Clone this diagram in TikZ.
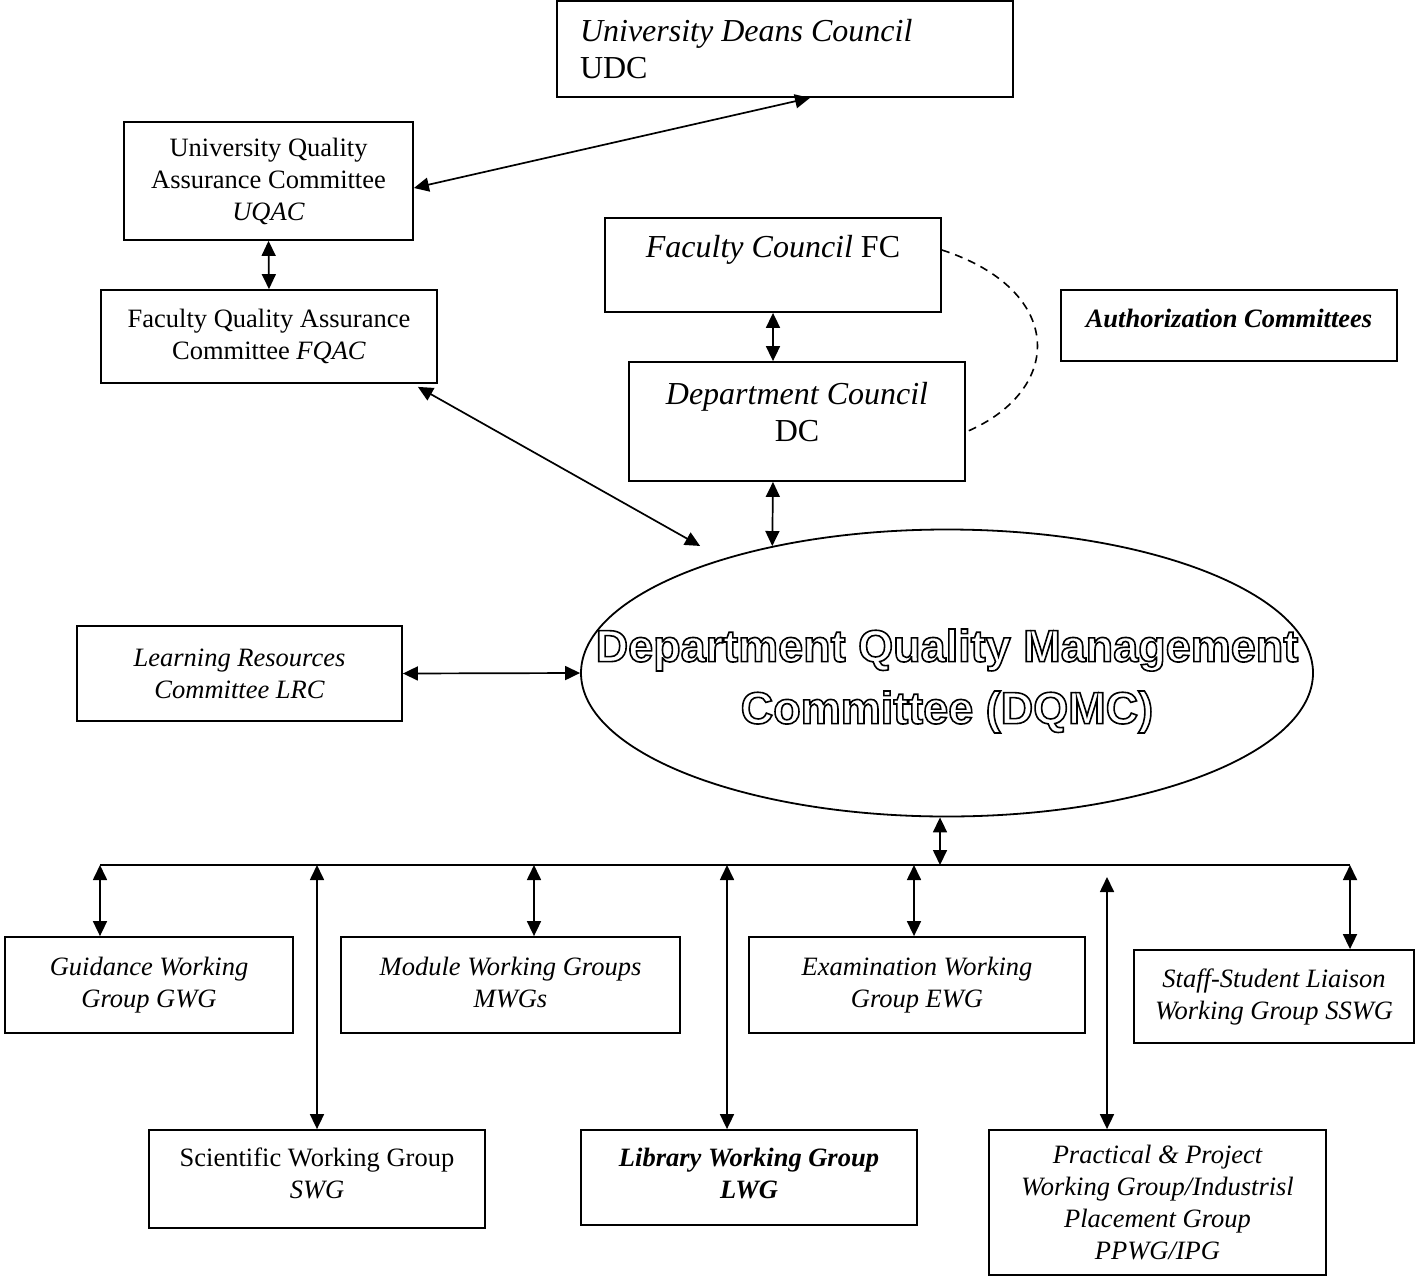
\documentclass[tikz,border=0pt]{standalone}
\usepackage{fontspec}
\setmainfont{Liberation Serif}
\newfontfamily\dqmcfont{Liberation Sans}
\usetikzlibrary{shapes.geometric}
\usetikzlibrary{arrows.meta}
\newcommand{\hollowtext}[1]{\special{pdf:literal direct 1 Tr 1.6 w}#1\special{pdf:literal direct 0 Tr}}

\begin{document}
\begin{tikzpicture}[x=1pt, y=-1pt,
  unitbox/.style={draw, line width=1.8pt, inner sep=0pt, align=center, font=\fontsize{26.5}{32}\selectfont},
  itbox/.style={unitbox, font=\fontsize{26.5}{32}\selectfont\itshape},
  bigbox/.style={unitbox, font=\fontsize{32}{37}\selectfont},
  twoway/.style={line width=1.7pt, arrows={Triangle[length=15pt,width=14pt]-Triangle[length=15pt,width=14pt]}}]
  \useasboundingbox (0,0) rectangle (1420,1284);
  % upper part
  \node[bigbox, minimum height=96pt, text width=410pt, inner xsep=23pt, align=flush left] (udc) at (785,49) {\textit{University Deans Council}\\UDC};
  \node[unitbox, minimum width=289pt, minimum height=118pt] (uqac) at (268.5,181) {University Quality\\Assurance Committee\\\textit{UQAC}};
  \node[unitbox, minimum width=336pt, minimum height=93pt] (fqac) at (269,336.5) {Faculty Quality Assurance\\Committee \textit{FQAC}};
  \node[bigbox, minimum width=336pt, minimum height=94pt] (fc) at (773,265) {\textit{Faculty Council} FC\\\mbox{}};
  \node[bigbox, minimum width=336pt, minimum height=119pt, text depth=20pt] (dc) at (797,421.5) {\textit{Department Council}\\DC};
  \node[unitbox, minimum width=336pt, minimum height=71pt, text depth=14pt] (auth) at (1229,325.5) {\textbf{\textit{Authorization Committees}}};
  \node[ellipse, draw, line width=1.8pt, minimum width=732pt, minimum height=287pt, inner sep=0pt] (dqmc) at (947,673) {};
  \node[itbox, minimum width=325pt, minimum height=95pt] (lrc) at (239.5,673.5) {Learning Resources\\Committee LRC};
  % working groups
  \node[itbox, minimum width=288pt, minimum height=96pt] (gwg) at (149,985) {Guidance Working\\Group GWG};
  \node[itbox, minimum width=339pt, minimum height=96pt, text depth=6pt] (mwg) at (510.5,985) {Module Working Groups\\MWGs};
  \node[itbox, minimum width=336pt, minimum height=96pt] (ewg) at (917,985) {Examination Working\\Group EWG};
  \node[itbox, minimum width=280pt, minimum height=93pt] (sswg) at (1274,996.5) {Staff-Student Liaison\\Working Group SSWG};
  \node[unitbox, minimum width=336pt, minimum height=98pt, text depth=12pt] (swg) at (317,1179) {Scientific Working Group\\\textit{SWG}};
  \node[itbox, font=\fontsize{26.5}{32}\selectfont\bfseries\itshape, minimum width=336pt, minimum height=95pt, text depth=8pt] (lwg) at (749,1177.5) {Library Working Group\\LWG};
  \node[itbox, minimum width=337pt, minimum height=145pt] (ppwg) at (1157.5,1202.5) {Practical \& Project\\Working Group/Industrisl\\Placement Group\\PPWG/IPG};
  % links
  \draw[twoway] ([yshift=-7pt]uqac.east) -- ([xshift=25pt]udc.south);
  \draw[twoway] (uqac.south) -- (fqac.north);
  \draw[twoway, shorten >=26pt] ([xshift=-20pt,yshift=-3pt]fqac.south east) -- (dqmc.153);
  \draw[twoway] (fc.south) -- (fc.south |- dc.north);
  \draw[twoway] (dc.south -| fc.south) -- (dqmc.144);
  \draw[line width=1.6pt, dash pattern=on 8pt off 6pt] ([yshift=15pt]fc.east) .. controls (1065,290) and (1065,390) .. ([yshift=-10.5pt]dc.east);
  \draw[twoway] (lrc.east) -- (dqmc.west);
  % bus
  \coordinate (busL) at (100,865);
  \coordinate (busR) at (1350,865);
  \draw[line width=2.2pt] (busL) -- (busR);
  \draw[twoway] ([xshift=-7pt]dqmc.south) -- ([xshift=-7pt]dqmc.south |- busL);
  \foreach \b/\x in {gwg/100, swg/317, mwg/534, lwg/727, ewg/914, sswg/1350}
    \draw[twoway] (\x,0 |- busL) -- (\x,0 |- \b.north);
  \draw[twoway, shorten <=12pt] (1107,0 |- busL) -- (1107,0 |- ppwg.north);
  % title text of the ellipse
  \node[font=\dqmcfont\bfseries\fontsize{45}{62}\selectfont, align=center, inner sep=0pt] (dqmctext) at ([yshift=-8pt]dqmc.center) {\hollowtext{Department Quality Management\\Committee (DQMC)}};
\end{tikzpicture}
\end{document}
